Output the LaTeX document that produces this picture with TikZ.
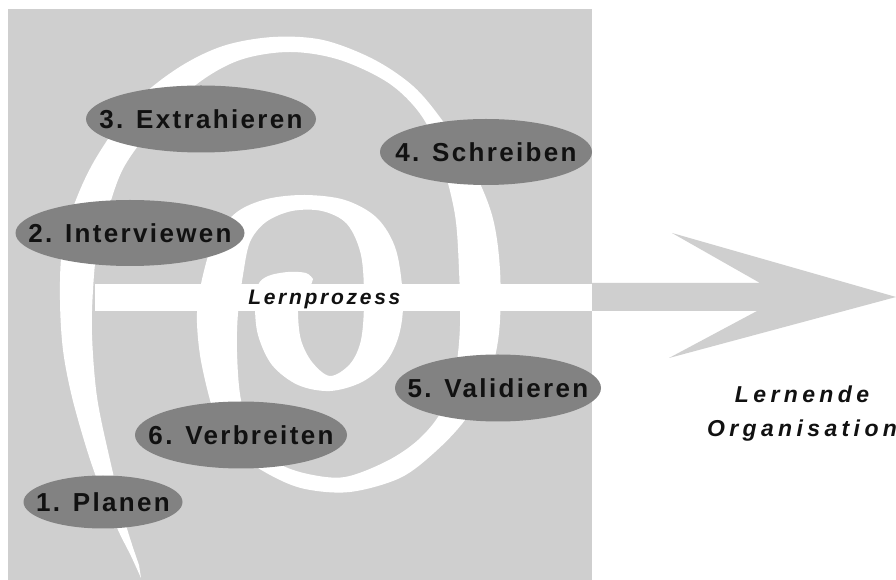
\documentclass[tikz,border=0pt]{standalone}
\usepackage{fontspec}
\setmainfont{Liberation Sans}
\newfontfamily\ellfont[LetterSpace=9]{Liberation Sans}
\newfontfamily\lpfont[LetterSpace=13]{Liberation Sans}
\newfontfamily\lofont[LetterSpace=19]{Liberation Sans}
\usetikzlibrary{shapes.geometric}
\definecolor{bggray}{RGB}{207,207,207}
\definecolor{ellgray}{RGB}{130,130,130}
\definecolor{txtcol}{RGB}{17,17,17}
\begin{document}
\begin{tikzpicture}[x=0.75pt,y=-0.75pt,
  stepell/.style={ellipse, fill=ellgray, inner sep=0pt, outer sep=0pt},
  steptext/.style={inner sep=0pt, text=txtcol,
    font=\ellfont\bfseries\fontsize{19.5}{21}\selectfont},
  lplabel/.style={inner sep=0pt, text=txtcol,
    font=\lpfont\bfseries\itshape\fontsize{15.75}{18}\selectfont},
  lolabel/.style={inner sep=0pt, text=txtcol,
    font=\lofont\bfseries\itshape\fontsize{17.25}{20}\selectfont}]
\useasboundingbox (0,0) rectangle (896,580);
\fill[white] (0,0) rectangle (896,580);
% gray square
\fill[bggray] (8,9) rectangle (592,580);
% big arrow outside
\fill[bggray] (590,283) -- (760,283) -- (672,233) -- (896,297) -- (669,358) -- (757,311) -- (590,311) -- cycle;
% spiral
\fill[white] plot[smooth, tension=0.55] coordinates {
 (141,578) (131,556) (118,530) (101,490) (87,450) (72,397) (63,350) (60,300) (62,250) (74,205) (96,158) (135,103) (178,68) (223,46) (273,37) (323,40) (373,59) (413,86) (442,120) (470,163) (492,215) (500,270) (499,333) (488,380) (465,420) (435,452) (400,478) (350,492) (305,489) (272,476) (240,455) (220,428) (210,400) (200,355) (197,313) (203,275) (215,238) (237,212) (267,199) (305,195) (345,200) (377,218) (396,250) (403,300) (399,335) (386,362) (362,382) (330,391) (298,385) (272,365) (258,335) (255,305) (258,285) (268,276) (288,272) (306,273) (313,279)}
 -- plot[smooth, tension=0.55] coordinates {
 (311,285) (300,292) (298,313) (301,340) (312,362) (330,376) (350,364) (361,340) (364,300) (361,255) (347,224) (322,211) (292,211) (266,222) (250,242) (243,275) (238,313) (237,352) (241,400) (255,440) (278,463) (308,474) (345,477) (387,461) (418,440) (441,412) (455,372) (460,326) (459,270) (455,215) (442,163) (423,118) (390,84) (340,60) (290,52) (240,60) (197,84) (155,125) (124,167) (108,210) (97,250) (93,290) (92,335) (97,397) (110,460) (126,525) (139,565)} -- cycle;
% white bar inside the square
\fill[white] (95,284) rectangle (592,311);
% steps
\node[stepell, minimum width=230*0.75pt, minimum height=67*0.75pt] (s3) at (201,119) {};
\node[stepell, minimum width=212*0.75pt, minimum height=66*0.75pt] (s4) at (486,152) {};
\node[stepell, minimum width=229*0.75pt, minimum height=66*0.75pt] (s2) at (130,233) {};
\node[stepell, minimum width=206*0.75pt, minimum height=67*0.75pt] (s5) at (498,388) {};
\node[stepell, minimum width=212*0.75pt, minimum height=67*0.75pt] (s6) at (241,435) {};
\node[stepell, minimum width=159*0.75pt, minimum height=53*0.75pt] (s1) at (103,502) {};
\node[steptext] (t3) at (s3) {3. Extrahieren};
\node[steptext] (t4) at (s4) {4. Schreiben};
\node[steptext] (t2) at (s2) {2. Interviewen};
\node[steptext] (t5) at (s5) {5. Validieren};
\node[steptext] (t6) at (s6) {6. Verbreiten};
\node[steptext] (t1) at (s1) {1. Planen};
% labels
\node[lplabel, anchor=base west] (lp) at (248,305) {Lernprozess};
\node[lolabel, anchor=base] (lo1) at (802,403) {Lernende};
\node[lolabel, anchor=base] (lo2) at (802,437) {Organisation};
\end{tikzpicture}
\end{document}
